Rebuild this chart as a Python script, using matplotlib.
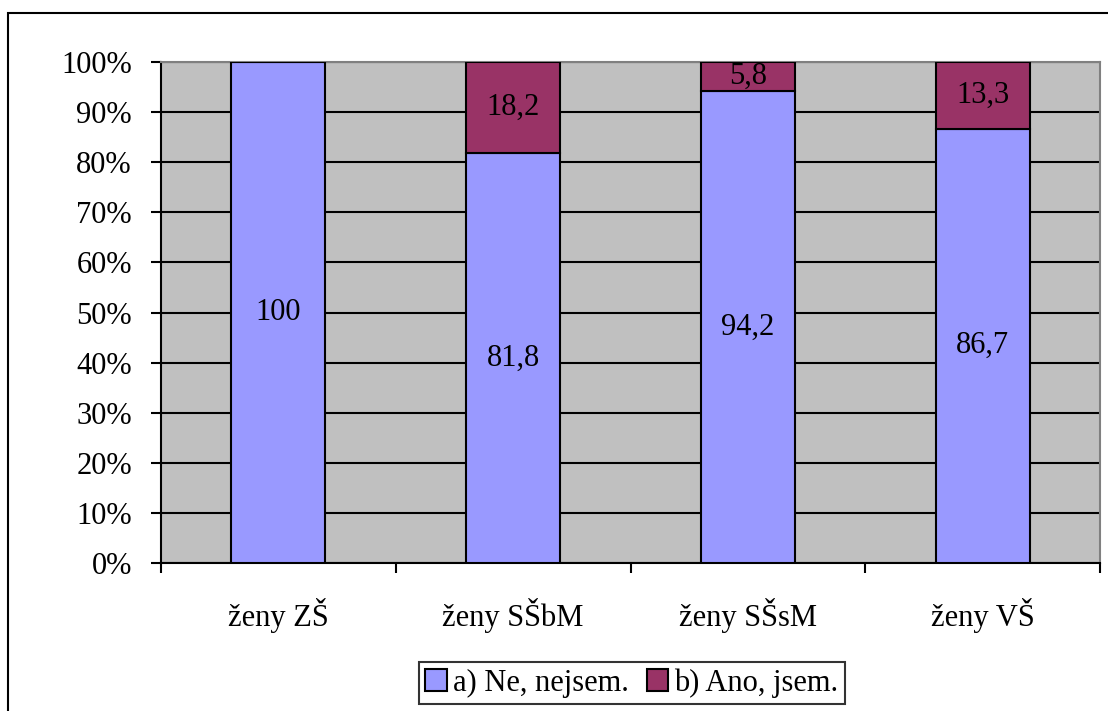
import matplotlib.pyplot as plt
from matplotlib.patches import Rectangle

categories = ['ženy ZŠ', 'ženy SŠbM', 'ženy SŠsM', 'ženy VŠ']
ne_values = [100, 81.8, 94.2, 86.7]
ano_values = [0, 18.2, 5.8, 13.3]
series_names = ['a) Ne, nejsem.', 'b) Ano, jsem.']

def comma(v):
    s = f"{v:g}"
    return s.replace('.', ',')

plt.rcParams['font.family'] = ['Liberation Serif', 'DejaVu Serif']
plt.rcParams['font.size'] = 22

fig = plt.figure(figsize=(11.08, 7.11), dpi=100)
# outer chart frame (extends past the right and bottom edges)
fig.patches.append(Rectangle((8/1108, -0.1), 1.2, (711-13)/711 + 0.1, transform=fig.transFigure,
                             fill=False, edgecolor='black', linewidth=1.5))

ax = fig.add_axes([161/1108, 148/711, 939/1108, 501/711])
ax.set_facecolor('#C0C0C0')

x = list(range(len(categories)))
ax.set_axisbelow(True)
ax.yaxis.grid(True, color='black', linewidth=1.5)
b1 = ax.bar(x, ne_values, width=0.4, color='#9999FF', edgecolor='black', linewidth=1.5,
            label=series_names[0], zorder=3)
b2 = ax.bar(x, ano_values, width=0.4, bottom=ne_values, color='#993366', edgecolor='black',
            linewidth=1.5, label=series_names[1], zorder=3)

for i in x:
    ax.text(i, ne_values[i] / 2, comma(ne_values[i]), ha='center', va='center', zorder=4)
    if ano_values[i] > 0:
        ax.text(i, ne_values[i] + ano_values[i] / 2, comma(ano_values[i]), ha='center', va='center',
                zorder=4)

ax.set_xlim(-0.5, len(categories) - 0.5)
ax.set_ylim(0, 100)
ax.set_yticks(range(0, 101, 10))
ax.set_yticklabels([f"{v}%" for v in range(0, 101, 10)])
ax.set_xticks(x)
ax.set_xticklabels(categories)
ax.set_xticks([i - 0.5 for i in range(len(categories) + 1)], minor=True)
ax.tick_params(axis='x', which='major', length=0, pad=25)
ax.tick_params(axis='x', which='minor', length=7, width=1.5, direction='out')
ax.tick_params(axis='y', length=7, width=1.5, pad=14)

for side in ['top', 'right']:
    ax.spines[side].set_color('#808080')
    ax.spines[side].set_linewidth(1.5)
for side in ['left', 'bottom']:
    ax.spines[side].set_color('black')
    ax.spines[side].set_linewidth(1.5)

leg = fig.legend(handles=[b1, b2], loc='center', bbox_to_anchor=(632/1108, 28/711), ncol=2,
                 frameon=True, fancybox=False, edgecolor='black',
                 handlelength=0.7, handleheight=0.7, handletextpad=0.2, columnspacing=0.6,
                 borderpad=0.2, borderaxespad=0)
leg.get_frame().set_linewidth(1.5)

plt.savefig('out.png', dpi=100)
